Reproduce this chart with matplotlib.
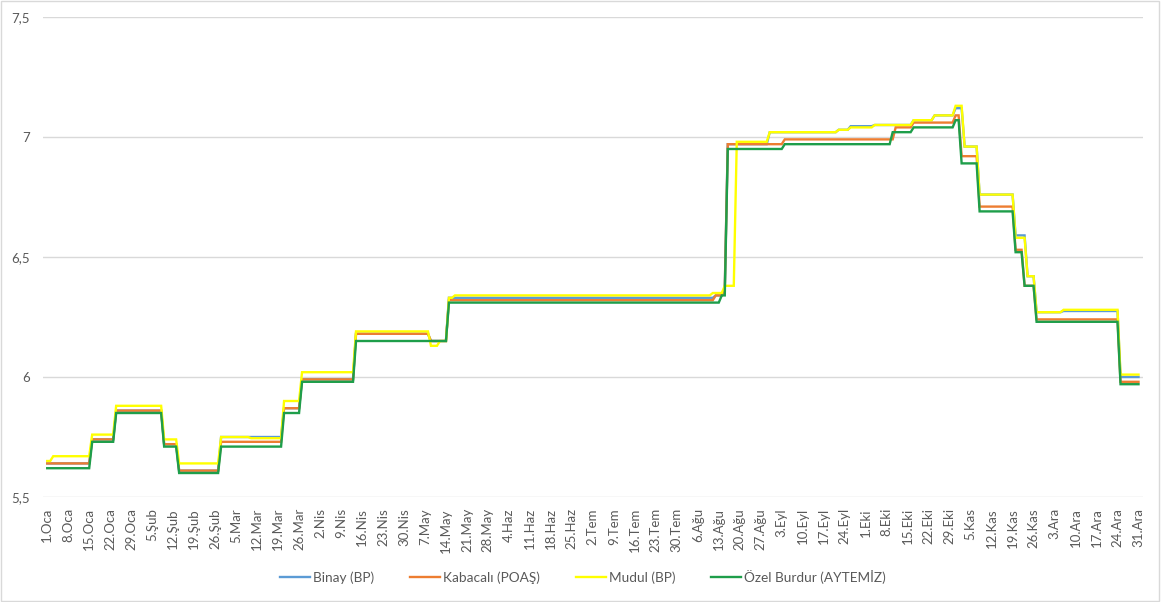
import numpy as np
import pandas as pd
import matplotlib
matplotlib.use("Agg")
import matplotlib.pyplot as plt
from matplotlib.patches import Rectangle

# Turkish month abbreviations for the x labels
months_tr = ["Oca", "Şub", "Mar", "Nis", "May", "Haz",
             "Tem", "Ağu", "Eyl", "Eki", "Kas", "Ara"]

series_names = ["Binay (BP)", "Kabacalı (POAŞ)", "Mudul (BP)", "Özel Burdur (AYTEMİZ)"]

# price levels: day of year (0 = 1 Jan) where a new price starts, and the price
binay_days = [0, 15, 23, 39, 44, 58, 79, 85, 103, 128, 134, 223, 226, 227, 241, 264, 268,
              276, 289, 296, 303, 306, 311, 323, 327, 330, 339, 358]
binay_vals = [5.64, 5.74, 5.86, 5.72, 5.61, 5.75, 5.87, 5.99, 6.18, 6.15, 6.33, 6.34, 6.37,
              6.97, 7.02, 7.03, 7.045, 7.05, 7.07, 7.09, 7.12, 6.96, 6.76, 6.59, 6.42, 6.27,
              6.275, 6.00]

kabacali_days = [0, 15, 23, 39, 44, 58, 79, 85, 103, 128, 134, 223, 226, 227, 246, 283, 289,
                 303, 305, 311, 323, 326, 330, 358]
kabacali_vals = [5.64, 5.74, 5.86, 5.72, 5.61, 5.73, 5.87, 5.99, 6.18, 6.15, 6.32, 6.34, 6.37,
                 6.97, 6.99, 7.04, 7.06, 7.09, 6.92, 6.71, 6.53, 6.38, 6.24, 5.98]

mudul_days = [0, 2, 15, 23, 39, 44, 58, 68, 79, 85, 103, 128, 131, 134, 136, 222, 226, 230,
              241, 264, 268, 276, 289, 296, 303, 306, 311, 323, 327, 330, 339, 358]
mudul_vals = [5.65, 5.67, 5.76, 5.88, 5.74, 5.64, 5.75, 5.745, 5.90, 6.02, 6.19, 6.13, 6.15,
              6.33, 6.34, 6.35, 6.38, 6.98, 7.02, 7.03, 7.04, 7.05, 7.07, 7.09, 7.13, 6.96,
              6.76, 6.58, 6.42, 6.27, 6.28, 6.01]

burdur_days = [0, 15, 23, 39, 44, 58, 79, 85, 103, 134, 225, 227, 246, 282, 289, 303, 305,
               311, 323, 326, 330, 358]
burdur_vals = [5.62, 5.73, 5.85, 5.71, 5.60, 5.71, 5.85, 5.98, 6.15, 6.31, 6.34, 6.95, 6.97,
               7.02, 7.04, 7.07, 6.89, 6.69, 6.52, 6.38, 6.23, 5.97]

y_ticks = [5.5, 6.0, 6.5, 7.0, 7.5]
y_tick_labels = ["5,5", "6", "6,5", "7", "7,5"]

colors = ["#5B9BD5", "#ED7D31", "#FFFF00", "#1E9E4A"]

N_DAYS = 365


def daily(days, vals):
    # hold each price until the next change
    lengths = np.diff(days + [N_DAYS])
    return np.repeat(vals, lengths)


dates = pd.date_range("2019-01-01", periods=N_DAYS, freq="D")
df = pd.DataFrame({
    series_names[0]: daily(binay_days, binay_vals),
    series_names[1]: daily(kabacali_days, kabacali_vals),
    series_names[2]: daily(mudul_days, mudul_vals),
    series_names[3]: daily(burdur_days, burdur_vals),
}, index=dates)

x = np.arange(N_DAYS)
tick_pos = x[::7]
tick_labels = [f"{d.day}.{months_tr[d.month - 1]}" for d in dates[::7]]

plt.rcParams["font.family"] = ["Lato", "DejaVu Sans"]

fig = plt.figure(figsize=(11.61, 6.02), dpi=100)
ax = fig.add_axes([0.0368, 0.1744, 0.9477, 0.7974])

for name, c in zip(series_names, colors):
    ax.plot(x, df[name].values, color=c, lw=1.7, label=name, solid_joinstyle="miter")

ax.set_xlim(-1.5, 365.5)
ax.set_ylim(5.5, 7.5)
ax.set_yticks(y_ticks)
ax.set_yticklabels(y_tick_labels)
ax.set_xticks(tick_pos)
ax.set_xticklabels(tick_labels, rotation=90)
ax.tick_params(axis="both", length=0, colors="#595959", labelsize=9.5)
ax.tick_params(axis="x", pad=8)
ax.tick_params(axis="y", pad=9)

ax.grid(axis="y", color="#D9D9D9", lw=1)
ax.set_axisbelow(True)
for s in ax.spines.values():
    s.set_visible(False)

fig.legend(loc="center", bbox_to_anchor=(583 / 1161, 1 - 577 / 602), ncol=4,
           frameon=False, fontsize=9.8, handlelength=2.2, columnspacing=2.6,
           handletextpad=0.25, labelcolor="#595959")

# thin chart border like the spreadsheet frame
fig.patches.append(Rectangle((0.001, 0.002), 0.997, 0.996, transform=fig.transFigure,
                             fill=False, edgecolor="#D9D9D9", lw=1))

fig.savefig("out.png", dpi=100)
